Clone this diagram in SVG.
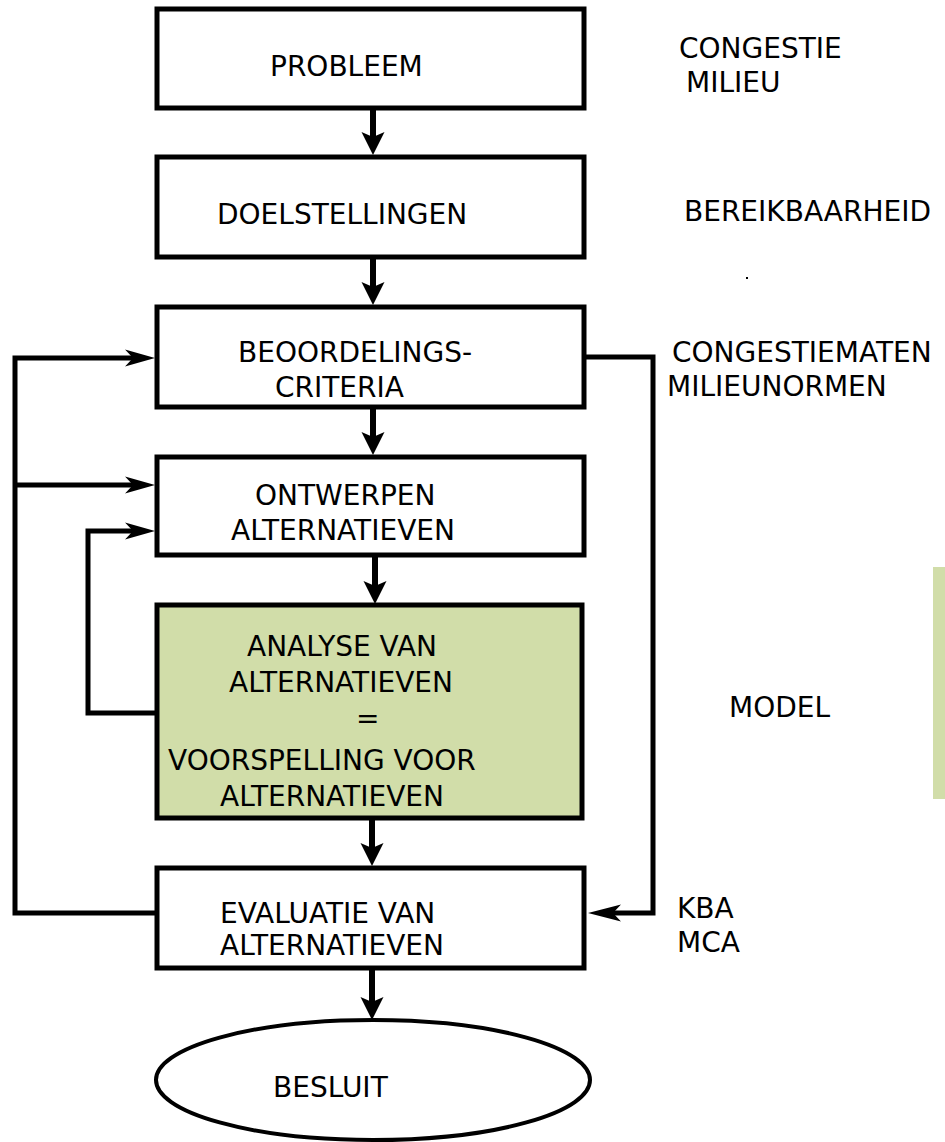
<svg xmlns="http://www.w3.org/2000/svg" xmlns:xlink="http://www.w3.org/1999/xlink" width="945" height="1142" viewBox="0 0 945 1142">
  <style>
    .box { fill: #ffffff; stroke: #000000; stroke-width: 5; }
    .green { fill: #d1dda9; }
    .lbl { font-family: "DejaVu Sans", Verdana, sans-serif; font-size: 28px; fill: #000000; }
    .wire { fill: none; stroke: #000000; stroke-width: 5; stroke-linejoin: miter; }
    .shaft { fill: none; stroke: #000000; stroke-width: 6; }
    .head { fill: #000000; }
  </style>
  <defs>
    <!-- wide head for the main downward flow, tip at origin -->
    <path id="hd" class="head" d="M0,0 L-11.5,-23 L0,-18 L11.5,-23 Z"/>
    <!-- notched head pointing right, tip at origin -->
    <path id="hr" class="head" d="M0,0 L-30,-8.5 L-22,0 L-30,8.5 Z"/>
    <!-- notched head pointing left, tip at origin -->
    <path id="hl" class="head" d="M0,0 L33,-8.5 L25,0 L33,8.5 Z"/>
  </defs>

  <rect width="945" height="1142" fill="#ffffff"/>

  <!-- side strip -->
  <rect x="933" y="567" width="12" height="232" class="green"/>

  <g id="connectors">
    <!-- main flow -->
    <line class="shaft" x1="373" y1="108" x2="373" y2="140"/>
    <use xlink:href="#hd" href="#hd" x="373" y="155"/>
    <line class="shaft" x1="373" y1="257" x2="373" y2="290"/>
    <use xlink:href="#hd" href="#hd" x="373" y="305"/>
    <line class="shaft" x1="373" y1="407" x2="373" y2="440"/>
    <use xlink:href="#hd" href="#hd" x="373" y="455"/>
    <line class="shaft" x1="375" y1="555" x2="375" y2="589"/>
    <use xlink:href="#hd" href="#hd" x="375" y="604"/>
    <line class="shaft" x1="372" y1="818" x2="372" y2="851"/>
    <use xlink:href="#hd" href="#hd" x="372" y="866"/>
    <line class="shaft" x1="372" y1="968" x2="372" y2="1005"/>
    <use xlink:href="#hd" href="#hd" x="372" y="1020"/>
    <!-- outer feedback loop from evaluation -->
    <polyline class="wire" points="155,913 15,913 15,358 135,358"/>
    <use xlink:href="#hr" href="#hr" x="155" y="358"/>
    <line class="wire" x1="15" y1="485" x2="135" y2="485"/>
    <use xlink:href="#hr" href="#hr" x="155" y="485"/>
    <!-- inner loop from analysis back to design -->
    <polyline class="wire" points="155,713 88,713 88,531 135,531"/>
    <use xlink:href="#hr" href="#hr" x="155" y="531"/>
    <!-- criteria to evaluation -->
    <polyline class="wire" points="585,357 653,357 653,913 610,913"/>
    <use xlink:href="#hl" href="#hl" x="588" y="913"/>
  </g>

  <g id="probleem">
    <rect class="box" x="157" y="9" width="427" height="99"/>
    <text class="lbl" x="270" y="76">PROBLEEM</text>
  </g>

  <g id="doelstellingen">
    <rect class="box" x="157" y="157" width="427" height="100"/>
    <text class="lbl" x="217" y="224">DOELSTELLINGEN</text>
  </g>

  <g id="criteria">
    <rect class="box" x="157" y="307" width="427" height="100"/>
    <text class="lbl" x="238" y="362">BEOORDELINGS-</text>
    <text class="lbl" x="275" y="397">CRITERIA</text>
  </g>

  <g id="ontwerpen">
    <rect class="box" x="157" y="457" width="427" height="98"/>
    <text class="lbl" x="255" y="505">ONTWERPEN</text>
    <text class="lbl" x="231" y="540">ALTERNATIEVEN</text>
  </g>

  <g id="analyse">
    <rect class="box green" x="157" y="605" width="425" height="213"/>
    <text class="lbl" x="247" y="656">ANALYSE VAN</text>
    <text class="lbl" x="229" y="692">ALTERNATIEVEN</text>
    <text class="lbl" x="356" y="728">=</text>
    <text class="lbl" x="168" y="770">VOORSPELLING VOOR</text>
    <text class="lbl" x="220" y="806">ALTERNATIEVEN</text>
  </g>

  <g id="evaluatie">
    <rect class="box" x="157" y="868" width="427" height="100"/>
    <text class="lbl" x="220" y="923">EVALUATIE VAN</text>
    <text class="lbl" x="220" y="955">ALTERNATIEVEN</text>
  </g>

  <g id="besluit">
    <ellipse cx="373" cy="1080" rx="217" ry="60" fill="#ffffff" stroke="#000000" stroke-width="4"/>
    <text class="lbl" x="273" y="1097">BESLUIT</text>
  </g>

  <g id="notes">
    <text class="lbl" x="679" y="58">CONGESTIE</text>
    <text class="lbl" x="686" y="92">MILIEU</text>
    <text class="lbl" x="684" y="221">BEREIKBAARHEID</text>
    <rect x="746" y="277" width="2" height="2" fill="#000000"/>
    <text class="lbl" x="672" y="362">CONGESTIEMATEN</text>
    <text class="lbl" x="667" y="396">MILIEUNORMEN</text>
    <text class="lbl" x="729" y="717">MODEL</text>
    <text class="lbl" x="677" y="918">KBA</text>
    <text class="lbl" x="677" y="952">MCA</text>
  </g>
</svg>
